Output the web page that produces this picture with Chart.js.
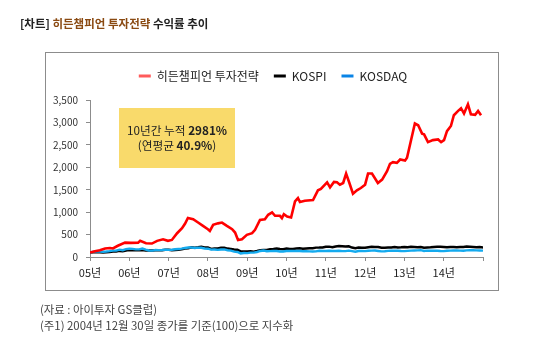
<!DOCTYPE html>
<html>
<head>
<meta charset="utf-8">
<script src="https://cdn.jsdelivr.net/npm/chart.js@4.4.1/dist/chart.umd.min.js"></script>
<style>
html,body{margin:0;padding:0;background:#fff;}
#wrap{position:relative;width:540px;height:360px;}
</style>
</head>
<body>
<div id="wrap"><canvas id="c" width="540" height="360"></canvas></div>
<script>
// ---- data (index = 100 on 2004-12-30; x = months since then) ----
const seriesNames = ['히든챔피언 투자전략', 'KOSPI', 'KOSDAQ'];
const yearLabels = ['05년','06년','07년','08년','09년','10년','11년','12년','13년','14년'];

const redMonths = [0,1.5,3,4.6,6.1,7,8.5,10.7,12.5,14.7,15.3,17.1,18.9,20.5,22.3,23.8,25.0,26.6,28.1,29.0,29.9,31.5,33.0,34.5,36.0,36.6,37.6,39.1,40.3,41.8,43.4,44.3,45.2,46.4,47.9,49.5,50.4,51.9,53.4,54.4,55.6,56.5,58.0,58.6,59.2,60.2,61.4,62.6,63.5,64.1,65.6,68.1,69.6,70.5,72.4,73.3,74.5,75.4,76.3,77.3,78.2,79.1,80.3,81.5,82.7,84.0,84.9,86.1,87.9,89.2,90.7,91.6,92.5,93.7,94.7,96.2,96.8,99.2,100.2,101.4,102.0,103.2,104.7,106.3,107.2,108.1,109.0,110.2,111.1,112.4,113.3,114.2,115.4,116.3,117.6,118.5,119.4];
const redValues = [100,130,150,190,200,190,250,320,315,320,360,305,300,360,396,360,380,530,640,740,870,843,768,694,620,582,716,750,768,694,620,545,380,396,493,530,605,828,843,940,992,918,918,866,955,903,881,1240,1315,1225,1254,1270,1486,1516,1665,1553,1673,1665,1613,1650,1860,1673,1411,1486,1538,1613,1860,1860,1650,1725,1912,2076,2113,2100,2174,2150,2211,2975,2936,2750,2735,2561,2606,2620,2561,2606,2807,2920,3160,3257,3317,3198,3405,3183,3168,3257,3160];

// monthly, month 0..120
const kospiValues = [100,
104,113,108,102,108,113,124,121,136,129,145,154,
151,153,152,158,147,145,145,151,153,152,160,160,
152,158,162,172,190,195,216,209,217,230,213,212,
181,191,190,204,207,187,178,165,162,124,120,125,
130,119,135,153,156,155,174,178,187,176,174,188,
179,178,189,194,183,190,196,194,209,210,213,229,
231,216,235,245,239,234,238,210,198,213,206,204,
218,227,225,221,206,207,210,213,223,213,216,223,
219,226,224,219,223,208,214,215,223,227,228,224,
217,221,222,219,225,223,232,231,225,219,221,214];
const kosdaqValues = [100,
120,126,122,118,123,130,142,142,164,151,177,184,
180,169,171,189,164,146,143,155,153,155,165,159,
161,172,179,186,200,212,212,201,210,207,189,185,
165,168,158,167,170,151,142,121,111,79,89,87,
98,97,112,135,145,129,131,137,133,124,124,135,
137,135,136,135,129,128,126,124,126,138,135,134,
138,134,135,138,132,132,141,130,118,134,134,131,
138,141,144,134,125,129,136,138,141,138,133,130,
136,142,146,148,152,134,141,141,141,139,133,131,
138,141,145,148,142,140,147,150,153,148,146,143];

const redData = redMonths.map((m,i)=>({x:m,y:redValues[i]}));
const kospiData = kospiValues.map((v,i)=>({x:i,y:v}));
const kosdaqData = kosdaqValues.map((v,i)=>({x:i,y:v}));

const FONT = "'Noto Sans CJK KR', 'Noto Sans', sans-serif";

const decor = {
  id:'decor',
  beforeUpdate(chart){
    const lg = chart.legend;
    if (lg && !lg._patched){
      const f = lg.fit;
      lg.fit = function(){ f.call(this); this.height += 8; };
      const d = lg.draw;
      lg.draw = function(){ this.ctx.save(); this.ctx.translate(9,0); d.apply(this, arguments); this.ctx.restore(); };
      lg._patched = true;
    }
  },
  beforeDraw(chart){
    const ctx = chart.ctx;
    ctx.save();
    ctx.fillStyle = '#fff';
    ctx.fillRect(0,0,540,360);
    ctx.strokeStyle = '#8c8c8c';
    ctx.lineWidth = 1;
    ctx.strokeRect(45.5,52.5,453,238);
    ctx.restore();
  },
  afterDraw(chart){
    const ctx = chart.ctx;
    ctx.save();
    // title
    ctx.textBaseline = 'middle';
    ctx.textAlign = 'left';
    ctx.font = "bold 11.5px " + FONT;
    let x = 20;
    const parts = [['[차트] ','#222'],['히든챔피언 투자전략','#8a4a12'],[' 수익률 추이','#222']];
    for (const [t,c] of parts){ ctx.fillStyle=c; ctx.fillText(t,x,24); x += ctx.measureText(t).width; }

    // annotation box
    ctx.fillStyle = '#f9da6b';
    ctx.fillRect(119,108,116,60);
    const lines = [
      [['10년간 누적 ','normal'],['2981%','bold']],
      [['(연평균 ','normal'],['40.9%','bold'],[')','normal']]
    ];
    const ys = [131,146];
    lines.forEach((ln,k)=>{
      let w = 0;
      ln.forEach(([t,wt])=>{ ctx.font = wt+" 11.7px "+FONT; w += ctx.measureText(t).width; });
      let xx = 177 - w/2;
      ctx.fillStyle = '#222';
      ln.forEach(([t,wt])=>{ ctx.font = wt+" 11.7px "+FONT; ctx.fillText(t,xx,ys[k]); xx += ctx.measureText(t).width; });
    });

    // footnotes
    ctx.font = "11.4px " + FONT;
    ctx.fillStyle = '#444';
    ctx.fillText('(자료 : 아이투자 GS클럽)', 40, 310);
    ctx.fillText('(주1) 2004년 12월 30일 종가를 기준(100)으로 지수화', 40, 326);
    ctx.restore();
  }
};

new Chart(document.getElementById('c'), {
  type:'line',
  data:{
    datasets:[
      {label:seriesNames[0], data:redData, borderColor:'#ff0000', backgroundColor:'#ff5b5b', borderWidth:2.6, pointRadius:0, tension:0, order:0},
      {label:seriesNames[1], data:kospiData, borderColor:'#000000', backgroundColor:'#000000', borderWidth:2.5, pointRadius:0, tension:0, order:2},
      {label:seriesNames[2], data:kosdaqData, borderColor:'#14aaee', backgroundColor:'#0a84e6', borderWidth:2.4, pointRadius:0, tension:0, order:1}
    ]
  },
  options:{
    responsive:false,
    animation:false,
    layout:{padding:{top:55,left:45,right:57,bottom:0}},
    plugins:{
      legend:{
        display:true,
        position:'top',
        labels:{
          boxWidth:12, boxHeight:3, padding:15,
          color:'#222',
          font:{family:FONT, size:12},
          generateLabels(chart){
            return chart.data.datasets.map((d,i)=>({
              text:d.label, fillStyle:d.backgroundColor, strokeStyle:d.backgroundColor,
              lineWidth:0, hidden:false, datasetIndex:i, fontColor:'#222'
            }));
          }
        }
      },
      tooltip:{enabled:false}
    },
    scales:{
      x:{
        type:'linear', min:0, max:120,
        afterFit(s){ s.height = 103; },
        grid:{drawOnChartArea:false, drawTicks:true, tickLength:4, color:'#8c8c8c'},
        border:{color:'#8c8c8c', width:1},
        ticks:{
          stepSize:12, autoSkip:false, maxRotation:0, padding:5,
          color:'#222', font:{family:FONT, size:11},
          callback(v){ const k = Math.round(v/12); return (v%12===0 && k<yearLabels.length) ? yearLabels[k] : ''; }
        }
      },
      y:{
        min:0, max:3500,
        afterFit(s){ s.width = 45; },
        grid:{drawOnChartArea:false, drawTicks:true, tickLength:4, color:'#8c8c8c'},
        border:{color:'#8c8c8c', width:1},
        ticks:{
          stepSize:500, padding:8, color:'#333', font:{family:FONT, size:10},
          callback(v){ return v.toLocaleString('en-US'); }
        }
      }
    }
  },
  plugins:[decor]
});
</script>
</body>
</html>
